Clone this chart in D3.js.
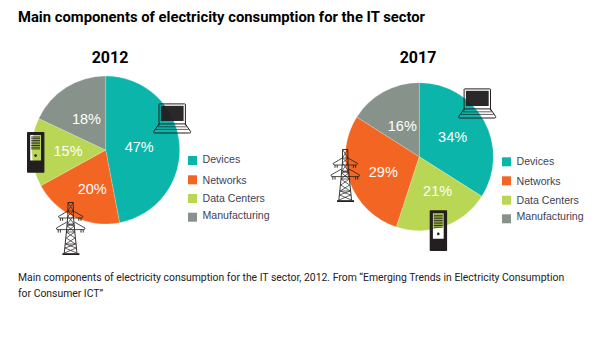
<!DOCTYPE html>
<html>
<head>
<meta charset="utf-8">
<script src="https://cdn.jsdelivr.net/npm/d3@7"></script>
<style>
  html, body { margin: 0; padding: 0; background: #fff; }
  svg { display: block; }
</style>
</head>
<body>
<svg id="chart" width="606" height="354"></svg>
<script>
// Values
const categories = ["Devices", "Networks", "Data Centers", "Manufacturing"];
const colors = ["#0bb5a9", "#f36523", "#b9d654", "#87938a"];
const values2012 = [47, 20, 15, 18];
const values2017 = [34, 29, 21, 16];
const order2012 = ["Devices", "Networks", "Data Centers", "Manufacturing"];
const order2017 = ["Devices", "Data Centers", "Networks", "Manufacturing"];
const captionLines = [
    "Main components of electricity consumption for the IT sector, 2012. From \u201cEmerging Trends in Electricity Consumption",
    "for Consumer ICT\u201d"
];

const svg = d3.select("#chart");
const iconColor = "#231f20";
const colorScale = d3.scaleOrdinal().domain(categories).range(colors);

svg.append("text")
    .attr("x", 18).attr("y", 22)
    .attr("font-family", "Roboto").attr("font-weight", 700).attr("font-size", 14.8)
    .attr("fill", "#000")
    .text("Main components of electricity consumption for the IT sector");

// Function to draw one pie with its legend
function drawPie(opts) {
    const rows = categories.map((c, i) => ({ name: c, value: opts.values[i] }));
    const pie = d3.pie().value(d => d.value)
        .sort((a, b) => opts.order.indexOf(a.name) - opts.order.indexOf(b.name));
    const arc = d3.arc().innerRadius(0).outerRadius(74);

    const g = svg.append("g").attr("transform", `translate(${opts.cx},${opts.cy})`);

    g.selectAll("path")
        .data(pie(rows))
        .enter().append("path")
        .attr("d", arc)
        .attr("fill", d => colorScale(d.data.name))
        .attr("stroke", "#fff")
        .attr("stroke-opacity", 0.5)
        .attr("stroke-width", 0.4);

    g.selectAll("text")
        .data(pie(rows))
        .enter().append("text")
        .attr("x", d => opts.labelPos[d.data.name][0])
        .attr("y", d => opts.labelPos[d.data.name][1])
        .attr("dy", "0.36em")
        .attr("text-anchor", "middle")
        .attr("font-family", "Liberation Sans").attr("font-size", 14.5)
        .attr("fill", "#fff")
        .text(d => d.data.value + "%");

    svg.append("text")
        .attr("x", opts.titleX).attr("y", 63)
        .attr("text-anchor", "middle")
        .attr("font-family", "Roboto").attr("font-weight", 700).attr("font-size", 16)
        .attr("fill", "#000")
        .text(opts.title);

    // Legend
    const legend = svg.append("g");
    legend.selectAll("rect")
        .data(categories)
        .enter().append("rect")
        .attr("x", opts.legendX)
        .attr("y", (d, i) => opts.swatchY[i])
        .attr("width", 9).attr("height", 9)
        .attr("fill", d => colorScale(d));
    legend.selectAll("text")
        .data(categories)
        .enter().append("text")
        .attr("x", opts.legendX + 14.5)
        .attr("y", (d, i) => opts.legendY[i])
        .attr("font-family", "Liberation Sans").attr("font-size", 10.6)
        .attr("fill", "#3f4254")
        .text(d => d);
}

// Computer tower, the front panel is a cut-out so the background shows through
function drawTower(x, y) {
    const g = svg.append("g").attr("transform", `translate(${x},${y})`);
    g.append("path")
        .attr("fill-rule", "evenodd")
        .attr("fill", iconColor)
        .attr("d", "M0.8,0 H16.6 Q17.4,0 17.4,0.8 V40 Q17.4,40.8 16.6,40.8 H0.8 Q0,40.8 0,40 V0.8 Q0,0 0.8,0 Z M3.2,3 V28.5 H14 V3 Z");
    const stripes = d3.range(5, 17.5, 1.7);
    g.selectAll("line")
        .data(stripes)
        .enter().append("line")
        .attr("x1", 4.2).attr("x2", 13)
        .attr("y1", d => d).attr("y2", d => d)
        .attr("stroke", iconColor).attr("stroke-width", 0.9);
    g.append("circle").attr("cx", 8.6).attr("cy", 23.6).attr("r", 1.3).attr("fill", iconColor);
}

// Laptop outline with a dark screen
function drawLaptop(x, y) {
    const g = svg.append("g").attr("transform", `translate(${x},${y})`)
        .attr("fill", "none").attr("stroke", iconColor);
    g.append("path").attr("stroke-width", 1)
        .attr("d", "M5.8,22 V1 Q5.8,0.5 6.5,0.5 H31.5 Q32.2,0.5 32.2,1 V22");
    g.append("rect").attr("x", 7.6).attr("y", 2.4).attr("width", 22.8).attr("height", 15.2)
        .attr("fill", iconColor).attr("fill-opacity", 0.96).attr("stroke", "none");
    g.append("path").attr("stroke-width", 1)
        .attr("d", "M5.8,20.5 H32.2 L37.4,28.2 Q37.6,29.6 36.6,29.6 H1.2 Q0.2,29.6 0.5,28.2 Z");
    g.append("path").attr("stroke-width", 0.7)
        .attr("d", "M4.4,23.4 H33.6 M2.6,26 H35.4");
}

// Power pylon, drawn around its vertical axis
function drawPylon(x, y) {
    const g = svg.append("g").attr("transform", `translate(${x},${y})`)
        .attr("fill", "none").attr("stroke", iconColor).attr("stroke-width", 0.8);
    // Mast
    g.append("path").attr("stroke-width", 0.9)
        .attr("d", "M12.6,0.5 H17.8 L18,14 L19.4,30 L21.6,51.5 M12.6,0.5 L12.4,14 L11,30 L8.8,51.5");
    // Lattice
    g.append("path").attr("stroke-width", 0.7)
        .attr("d", "M12.6,0.5 L18,9 L12.4,14 L18.6,22 L11.6,24 L19.4,30 L10.8,36 L20.2,42 L9.6,46 L21.4,51 M17.8,0.5 L12.4,9 L18,14 L11.8,22 L18.8,24 L11,30 L19.6,36 L10.2,42 L20.8,46 L9,51 M12.4,9 H18 M11.8,22 H18.6 M11,30 H19.4 M10.2,42 H20.2");
    // Upper and lower arms
    g.append("path")
        .attr("d", "M12.4,9 L3,14.5 L4,16 H26.5 L27.6,14.5 L18,9 M11.5,20 L1,26 L1.5,27.6 H29 L29.6,26 L19,20");
    // Insulators
    g.append("path").attr("stroke-width", 0.9)
        .attr("d", "M5,16 V18.8 M7.2,16 V18.8 M23.4,16 V18.8 M25.6,16 V18.8 M2.8,27.6 V30.6 M5,27.6 V30.6 M25.6,27.6 V30.6 M27.8,27.6 V30.6");
    // Base
    g.append("rect").attr("x", 7).attr("y", 51.2).attr("width", 17).attr("height", 1.8)
        .attr("fill", iconColor).attr("stroke", "none");
}

drawPie({
    title: "2012", titleX: 110, cx: 105.7, cy: 150,
    values: values2012, order: order2012,
    labelPos: {
        "Devices": [33.5, -2.8], "Networks": [-13.5, 39.2],
        "Data Centers": [-37.7, 1], "Manufacturing": [-19.3, -30.8]
    },
    legendX: 188, swatchY: [156, 175.3, 194, 212.7], legendY: [163, 184, 202, 219]
});

drawPie({
    title: "2017", titleX: 418, cx: 419.3, cy: 156.7,
    values: values2017, order: order2017,
    labelPos: {
        "Devices": [33.3, -19.5], "Data Centers": [18.3, 33.8],
        "Networks": [-36, 15], "Manufacturing": [-17, -31]
    },
    legendX: 502, swatchY: [157.3, 176.3, 195.7, 214.3], legendY: [165, 185, 204, 220]
});

drawLaptop(153.2, 103.4);
drawTower(27, 132);
drawPylon(55.4, 202);

drawLaptop(458.3, 88.4);
drawPylon(330, 149);
drawTower(429.7, 210.3);

svg.selectAll(".caption")
    .data(captionLines)
    .enter().append("text")
    .attr("class", "caption")
    .attr("x", 18)
    .attr("y", (d, i) => 280.6 + i * 16)
    .attr("font-family", "Roboto").attr("font-size", 10.4)
    .attr("fill", "#222")
    .text(d => d);
</script>
</body>
</html>
